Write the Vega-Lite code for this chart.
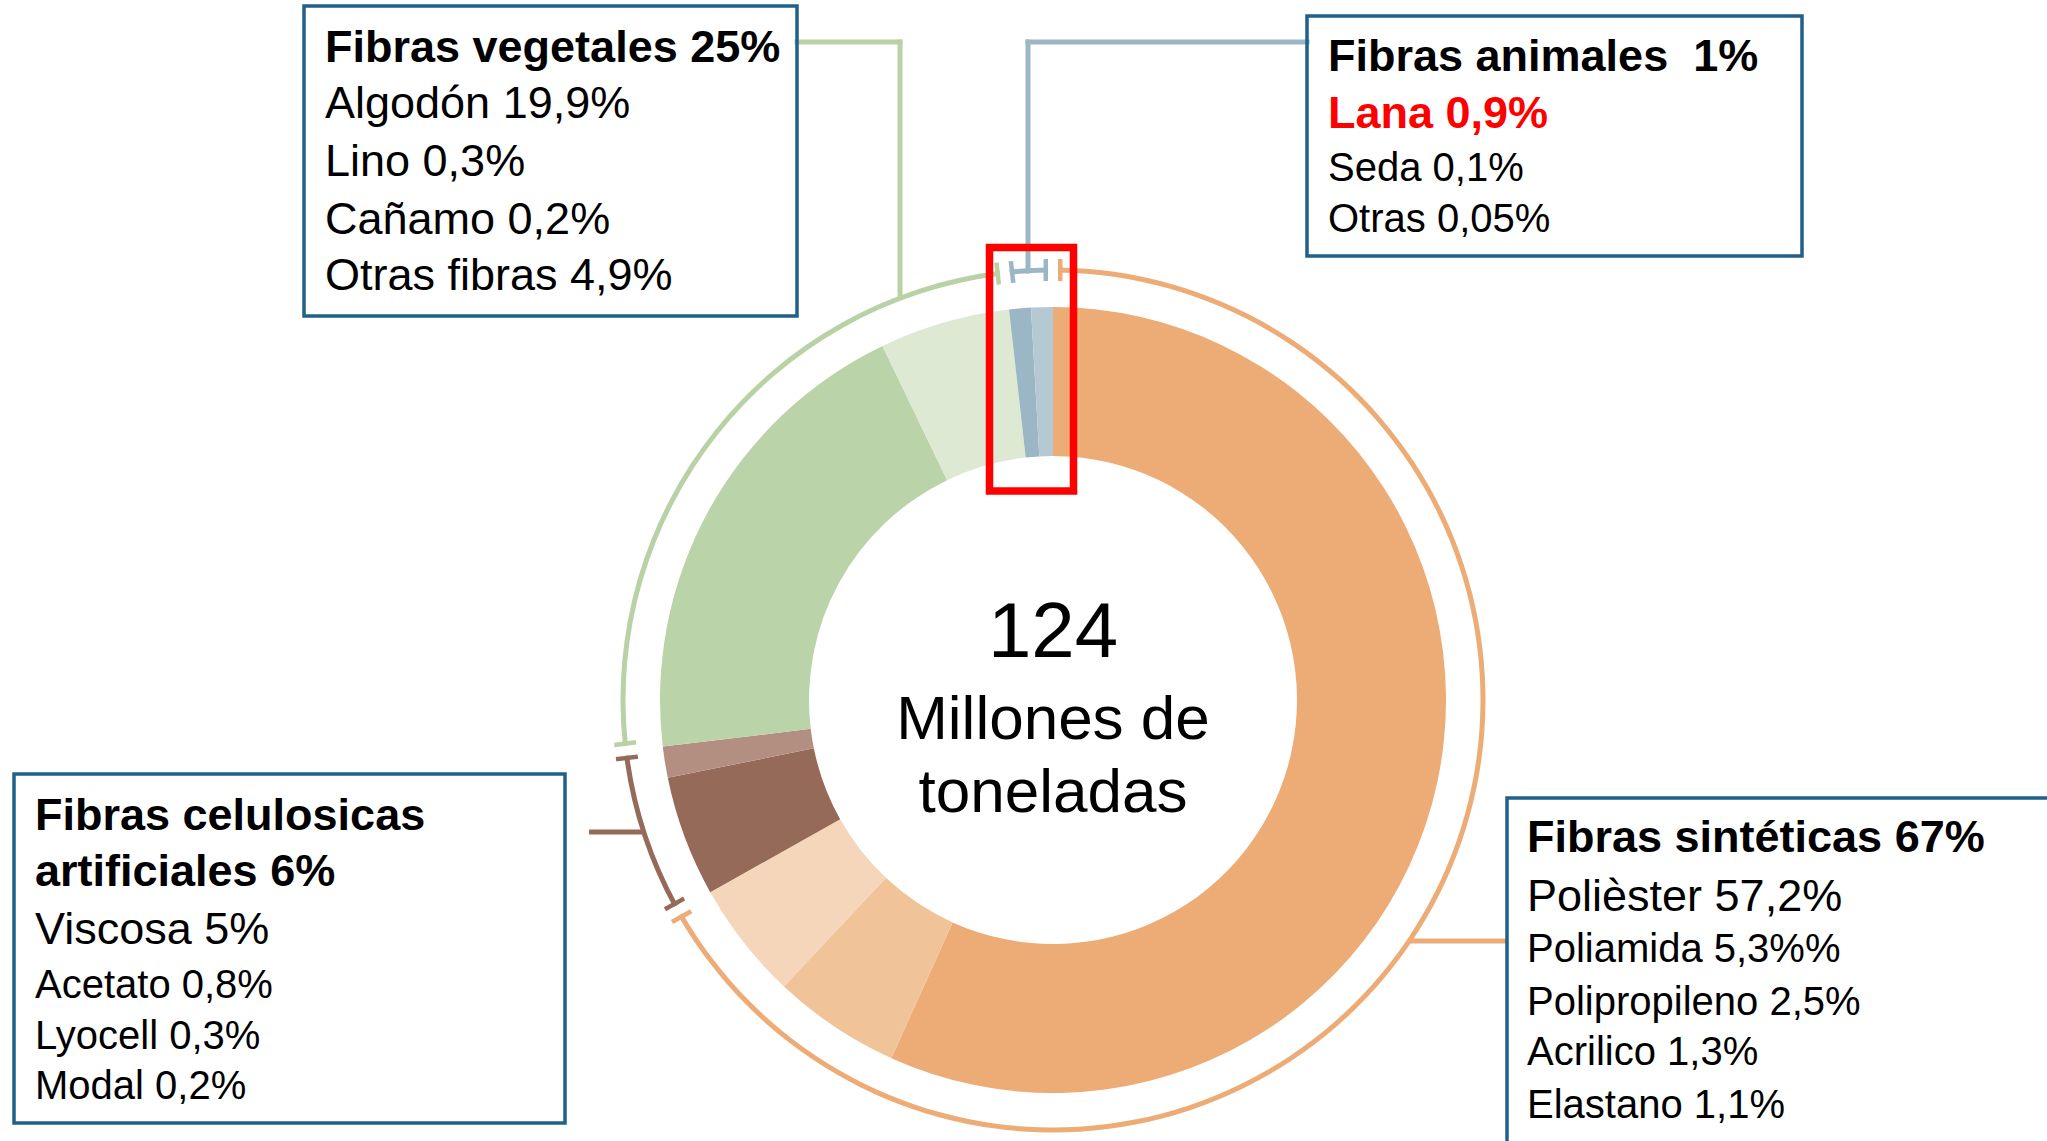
{
  "$schema": "https://vega.github.io/schema/vega-lite/v6.json",
  "width": 2047,
  "height": 1141,
  "autosize": {"type": "fit", "contains": "padding"},
  "padding": 0,
  "background": "white",
  "config": {"view": {"stroke": null}, "text": {"font": "Liberation Sans"}},
  "datasets": {
    "fibras": [
      {"fibra": "Poliéster", "grupo": "Fibras sintéticas", "pct": 57.2, "orden": 1},
      {"fibra": "Poliamida", "grupo": "Fibras sintéticas", "pct": 5.3, "orden": 2},
      {"fibra": "Otras sintéticas", "grupo": "Fibras sintéticas", "pct": 4.9, "orden": 3},
      {"fibra": "Viscosa", "grupo": "Fibras celulósicas artificiales", "pct": 5.0, "orden": 4},
      {"fibra": "Otras celulósicas", "grupo": "Fibras celulósicas artificiales", "pct": 1.3, "orden": 5},
      {"fibra": "Algodón", "grupo": "Fibras vegetales", "pct": 19.9, "orden": 6},
      {"fibra": "Otras vegetales", "grupo": "Fibras vegetales", "pct": 5.4, "orden": 7},
      {"fibra": "Lana", "grupo": "Fibras animales", "pct": 0.9, "orden": 8},
      {"fibra": "Seda y otras", "grupo": "Fibras animales", "pct": 0.9, "orden": 9}
    ],
    "textos": [
      {"caja": "vegetales", "linea": 1, "texto": "Fibras vegetales 25%", "estilo": "titulo"},
      {"caja": "vegetales", "linea": 2, "texto": "Algodón 19,9%", "estilo": "item"},
      {"caja": "vegetales", "linea": 3, "texto": "Lino 0,3%", "estilo": "item"},
      {"caja": "vegetales", "linea": 4, "texto": "Cañamo 0,2%", "estilo": "item"},
      {"caja": "vegetales", "linea": 5, "texto": "Otras fibras 4,9%", "estilo": "item"},
      {"caja": "animales", "linea": 1, "texto": "Fibras animales\u00a0 1%", "estilo": "titulo"},
      {"caja": "animales", "linea": 2, "texto": "Lana 0,9%", "estilo": "destacado"},
      {"caja": "animales", "linea": 3, "texto": "Seda 0,1%", "estilo": "menor"},
      {"caja": "animales", "linea": 4, "texto": "Otras 0,05%", "estilo": "menor"},
      {"caja": "celulosicas", "linea": 1, "texto": "Fibras celulosicas", "estilo": "titulo"},
      {"caja": "celulosicas", "linea": 2, "texto": "artificiales 6%", "estilo": "titulo"},
      {"caja": "celulosicas", "linea": 3, "texto": "Viscosa 5%", "estilo": "item"},
      {"caja": "celulosicas", "linea": 4, "texto": "Acetato 0,8%", "estilo": "menor"},
      {"caja": "celulosicas", "linea": 5, "texto": "Lyocell 0,3%", "estilo": "menor"},
      {"caja": "celulosicas", "linea": 6, "texto": "Modal 0,2%", "estilo": "menor"},
      {"caja": "sinteticas", "linea": 1, "texto": "Fibras sintéticas 67%", "estilo": "titulo"},
      {"caja": "sinteticas", "linea": 2, "texto": "Polièster 57,2%", "estilo": "item"},
      {"caja": "sinteticas", "linea": 3, "texto": "Poliamida 5,3%%", "estilo": "menor"},
      {"caja": "sinteticas", "linea": 4, "texto": "Polipropileno 2,5%", "estilo": "menor"},
      {"caja": "sinteticas", "linea": 5, "texto": "Acrilico 1,3%", "estilo": "menor"},
      {"caja": "sinteticas", "linea": 6, "texto": "Elastano 1,1%", "estilo": "menor"},
      {"caja": "centro", "linea": 1, "texto": "124", "estilo": "cifra"},
      {"caja": "centro", "linea": 2, "texto": "Millones de", "estilo": "unidad"},
      {"caja": "centro", "linea": 3, "texto": "toneladas", "estilo": "unidad"}
    ]
  },
  "layer": [
    {
      "layer": [
        {
          "data": {"name": "fibras"},
          "mark": {"type": "arc", "radius": 393, "radius2": 244},
          "encoding": {
            "x": {"datum": 1053, "scale": {"domain": [0, 2047], "range": [0, 2047], "nice": false, "zero": false}, "axis": null},
            "y": {"datum": 700, "scale": {"domain": [0, 1141], "range": [0, 1141], "nice": false, "zero": false}, "axis": null},
            "theta": {"field": "pct", "type": "quantitative", "stack": true},
            "order": {"field": "orden", "type": "quantitative"},
            "color": {"field": "fibra", "type": "nominal", "legend": null,
              "scale": {
                "domain": ["Poliéster", "Poliamida", "Otras sintéticas", "Viscosa", "Otras celulósicas", "Algodón", "Otras vegetales", "Lana", "Seda y otras", "Fibras sintéticas", "Fibras celulósicas artificiales", "Fibras vegetales", "Fibras animales"],
                "range": ["#EDAB76", "#F0C399", "#F6D6BA", "#956A58", "#B38F82", "#BBD3A8", "#DEE9D4", "#9BB7C5", "#B5C9D4", "#EDAB76", "#956A58", "#B9D2A5", "#9BB7C5"]
              }}
          }
        },
        {
          "data": {"name": "fibras"},
          "transform": [{"aggregate": [{"op": "sum", "field": "pct", "as": "pct"}, {"op": "min", "field": "orden", "as": "orden"}], "groupby": ["grupo"]}],
          "mark": {"type": "arc", "radius": 441, "radius2": 419, "padAngle": 0.0164},
          "encoding": {
            "x": {"datum": 1053, "scale": {"domain": [0, 2047], "range": [0, 2047], "nice": false, "zero": false}, "axis": null},
            "y": {"datum": 700, "scale": {"domain": [0, 1141], "range": [0, 1141], "nice": false, "zero": false}, "axis": null},
            "theta": {"field": "pct", "type": "quantitative", "stack": true},
            "order": {"field": "orden", "type": "quantitative"},
            "color": {"field": "grupo", "type": "nominal", "legend": null,
              "scale": {
                "domain": ["Poliéster", "Poliamida", "Otras sintéticas", "Viscosa", "Otras celulósicas", "Algodón", "Otras vegetales", "Lana", "Seda y otras", "Fibras sintéticas", "Fibras celulósicas artificiales", "Fibras vegetales", "Fibras animales"],
                "range": ["#EDAB76", "#F0C399", "#F6D6BA", "#956A58", "#B38F82", "#BBD3A8", "#DEE9D4", "#9BB7C5", "#B5C9D4", "#EDAB76", "#956A58", "#B9D2A5", "#9BB7C5"]
              }}
          }
        },
        {
          "data": {"name": "fibras"},
          "transform": [{"aggregate": [{"op": "sum", "field": "pct", "as": "pct"}, {"op": "min", "field": "orden", "as": "orden"}], "groupby": ["grupo"]}],
          "mark": {"type": "arc", "radius": 444, "radius2": 416, "padAngle": 0.0312, "fill": "white"},
          "encoding": {
            "x": {"datum": 1053, "scale": {"domain": [0, 2047], "range": [0, 2047], "nice": false, "zero": false}, "axis": null},
            "y": {"datum": 700, "scale": {"domain": [0, 1141], "range": [0, 1141], "nice": false, "zero": false}, "axis": null},
            "theta": {"field": "pct", "type": "quantitative", "stack": true},
            "order": {"field": "orden", "type": "quantitative"},
            "detail": {"field": "grupo", "type": "nominal"}
          }
        },
        {
          "data": {"name": "fibras"},
          "transform": [{"aggregate": [{"op": "sum", "field": "pct", "as": "pct"}, {"op": "min", "field": "orden", "as": "orden"}], "groupby": ["grupo"]}],
          "mark": {"type": "arc", "radius": 432.5, "radius2": 427.5, "padAngle": 0.0164},
          "encoding": {
            "x": {"datum": 1053, "scale": {"domain": [0, 2047], "range": [0, 2047], "nice": false, "zero": false}, "axis": null},
            "y": {"datum": 700, "scale": {"domain": [0, 1141], "range": [0, 1141], "nice": false, "zero": false}, "axis": null},
            "theta": {"field": "pct", "type": "quantitative", "stack": true},
            "order": {"field": "orden", "type": "quantitative"},
            "color": {"field": "grupo", "type": "nominal", "legend": null,
              "scale": {
                "domain": ["Poliéster", "Poliamida", "Otras sintéticas", "Viscosa", "Otras celulósicas", "Algodón", "Otras vegetales", "Lana", "Seda y otras", "Fibras sintéticas", "Fibras celulósicas artificiales", "Fibras vegetales", "Fibras animales"],
                "range": ["#EDAB76", "#F0C399", "#F6D6BA", "#956A58", "#B38F82", "#BBD3A8", "#DEE9D4", "#9BB7C5", "#B5C9D4", "#EDAB76", "#956A58", "#B9D2A5", "#9BB7C5"]
              }}
          }
        },
        {
          "data": {"values": [{"elemento": "conector vegetales"}]},
          "mark": {"type": "rule", "stroke": "#B9D2A5", "strokeWidth": 5, "strokeCap": "square"},
          "encoding": {
            "x": {"datum": 797, "scale": {"domain": [0, 2047], "range": [0, 2047], "nice": false, "zero": false}, "axis": null},
            "x2": {"datum": 900},
            "y": {"datum": 42, "scale": {"domain": [0, 1141], "range": [0, 1141], "nice": false, "zero": false}, "axis": null}
          }
        },
        {
          "data": {"values": [{"elemento": "conector vegetales"}]},
          "mark": {"type": "rule", "stroke": "#B9D2A5", "strokeWidth": 5, "strokeCap": "square"},
          "encoding": {
            "x": {"datum": 900, "scale": {"domain": [0, 2047], "range": [0, 2047], "nice": false, "zero": false}, "axis": null},
            "y": {"datum": 42, "scale": {"domain": [0, 1141], "range": [0, 1141], "nice": false, "zero": false}, "axis": null},
            "y2": {"datum": 297}
          }
        },
        {
          "data": {"values": [{"elemento": "conector animales"}]},
          "mark": {"type": "rule", "stroke": "#9BB7C5", "strokeWidth": 5, "strokeCap": "square"},
          "encoding": {
            "x": {"datum": 1028, "scale": {"domain": [0, 2047], "range": [0, 2047], "nice": false, "zero": false}, "axis": null},
            "x2": {"datum": 1307},
            "y": {"datum": 42, "scale": {"domain": [0, 1141], "range": [0, 1141], "nice": false, "zero": false}, "axis": null}
          }
        },
        {
          "data": {"values": [{"elemento": "conector animales"}]},
          "mark": {"type": "rule", "stroke": "#9BB7C5", "strokeWidth": 5, "strokeCap": "square"},
          "encoding": {
            "x": {"datum": 1028, "scale": {"domain": [0, 2047], "range": [0, 2047], "nice": false, "zero": false}, "axis": null},
            "y": {"datum": 42, "scale": {"domain": [0, 1141], "range": [0, 1141], "nice": false, "zero": false}, "axis": null},
            "y2": {"datum": 271}
          }
        },
        {
          "data": {"values": [{"elemento": "conector celulosicas"}]},
          "mark": {"type": "rule", "stroke": "#956A58", "strokeWidth": 5},
          "encoding": {
            "x": {"datum": 589, "scale": {"domain": [0, 2047], "range": [0, 2047], "nice": false, "zero": false}, "axis": null},
            "x2": {"datum": 644},
            "y": {"datum": 832, "scale": {"domain": [0, 1141], "range": [0, 1141], "nice": false, "zero": false}, "axis": null}
          }
        },
        {
          "data": {"values": [{"elemento": "conector sinteticas"}]},
          "mark": {"type": "rule", "stroke": "#EDAB76", "strokeWidth": 5},
          "encoding": {
            "x": {"datum": 1409, "scale": {"domain": [0, 2047], "range": [0, 2047], "nice": false, "zero": false}, "axis": null},
            "x2": {"datum": 1507},
            "y": {"datum": 941, "scale": {"domain": [0, 1141], "range": [0, 1141], "nice": false, "zero": false}, "axis": null}
          }
        },
        {
          "data": {"values": [{"elemento": "caja vegetales"}]},
          "mark": {"type": "rect", "fillOpacity": 0, "stroke": "#1F6189", "strokeWidth": 3.5},
          "encoding": {
            "x": {"datum": 304, "scale": {"domain": [0, 2047], "range": [0, 2047], "nice": false, "zero": false}, "axis": null},
            "x2": {"datum": 797},
            "y": {"datum": 6, "scale": {"domain": [0, 1141], "range": [0, 1141], "nice": false, "zero": false}, "axis": null},
            "y2": {"datum": 316}
          }
        },
        {
          "data": {"values": [{"elemento": "caja animales"}]},
          "mark": {"type": "rect", "fillOpacity": 0, "stroke": "#1F6189", "strokeWidth": 3.5},
          "encoding": {
            "x": {"datum": 1307, "scale": {"domain": [0, 2047], "range": [0, 2047], "nice": false, "zero": false}, "axis": null},
            "x2": {"datum": 1802},
            "y": {"datum": 16, "scale": {"domain": [0, 1141], "range": [0, 1141], "nice": false, "zero": false}, "axis": null},
            "y2": {"datum": 256}
          }
        },
        {
          "data": {"values": [{"elemento": "caja celulosicas"}]},
          "mark": {"type": "rect", "fillOpacity": 0, "stroke": "#1F6189", "strokeWidth": 3.5},
          "encoding": {
            "x": {"datum": 14, "scale": {"domain": [0, 2047], "range": [0, 2047], "nice": false, "zero": false}, "axis": null},
            "x2": {"datum": 565},
            "y": {"datum": 774, "scale": {"domain": [0, 1141], "range": [0, 1141], "nice": false, "zero": false}, "axis": null},
            "y2": {"datum": 1123}
          }
        },
        {
          "data": {"values": [{"elemento": "caja sinteticas"}]},
          "mark": {"type": "rect", "fillOpacity": 0, "stroke": "#1F6189", "strokeWidth": 3.5},
          "encoding": {
            "x": {"datum": 1507, "scale": {"domain": [0, 2047], "range": [0, 2047], "nice": false, "zero": false}, "axis": null},
            "x2": {"datum": 2080},
            "y": {"datum": 798, "scale": {"domain": [0, 1141], "range": [0, 1141], "nice": false, "zero": false}, "axis": null},
            "y2": {"datum": 1180}
          }
        },
        {
          "data": {"values": [{"elemento": "resaltado lana"}]},
          "mark": {"type": "rect", "fillOpacity": 0, "stroke": "#FF0000", "strokeWidth": 7.5},
          "encoding": {
            "x": {"datum": 989.5, "scale": {"domain": [0, 2047], "range": [0, 2047], "nice": false, "zero": false}, "axis": null},
            "x2": {"datum": 1073.5},
            "y": {"datum": 247.5, "scale": {"domain": [0, 1141], "range": [0, 1141], "nice": false, "zero": false}, "axis": null},
            "y2": {"datum": 491}
          }
        }
      ]
    },
    {
      "data": {"name": "textos"},
      "transform": [{"filter": "datum.caja === 'vegetales'"}],
      "mark": {"type": "text", "align": "left", "baseline": "alphabetic", "font": "Liberation Sans",
        "fontSize": {"expr": "datum.estilo === 'menor' ? 40 : 45"},
        "fontWeight": {"expr": "datum.estilo === 'titulo' || datum.estilo === 'destacado' ? 'bold' : 'normal'"},
        "fill": {"expr": "datum.estilo === 'destacado' ? '#FF0000' : '#000000'"}},
      "encoding": {
        "x": {"datum": 325, "scale": {"domain": [0, 2047], "range": [0, 2047], "nice": false, "zero": false}, "axis": null},
        "y": {"field": "linea", "type": "quantitative", "axis": null, "scale": {"domain": [1, 2, 3, 4, 5], "range": [62, 118, 175.5, 234, 290], "nice": false, "zero": false}},
        "text": {"field": "texto", "type": "nominal"}
      }
    },
    {
      "data": {"name": "textos"},
      "transform": [{"filter": "datum.caja === 'animales'"}],
      "mark": {"type": "text", "align": "left", "baseline": "alphabetic", "font": "Liberation Sans",
        "fontSize": {"expr": "datum.estilo === 'menor' ? 40 : 45"},
        "fontWeight": {"expr": "datum.estilo === 'titulo' || datum.estilo === 'destacado' ? 'bold' : 'normal'"},
        "fill": {"expr": "datum.estilo === 'destacado' ? '#FF0000' : '#000000'"}},
      "encoding": {
        "x": {"datum": 1328, "scale": {"domain": [0, 2047], "range": [0, 2047], "nice": false, "zero": false}, "axis": null},
        "y": {"field": "linea", "type": "quantitative", "axis": null, "scale": {"domain": [1, 2, 3, 4], "range": [71, 128, 181, 232], "nice": false, "zero": false}},
        "text": {"field": "texto", "type": "nominal"}
      }
    },
    {
      "data": {"name": "textos"},
      "transform": [{"filter": "datum.caja === 'celulosicas'"}],
      "mark": {"type": "text", "align": "left", "baseline": "alphabetic", "font": "Liberation Sans",
        "fontSize": {"expr": "datum.estilo === 'menor' ? 40 : 45"},
        "fontWeight": {"expr": "datum.estilo === 'titulo' || datum.estilo === 'destacado' ? 'bold' : 'normal'"},
        "fill": {"expr": "datum.estilo === 'destacado' ? '#FF0000' : '#000000'"}},
      "encoding": {
        "x": {"datum": 35, "scale": {"domain": [0, 2047], "range": [0, 2047], "nice": false, "zero": false}, "axis": null},
        "y": {"field": "linea", "type": "quantitative", "axis": null, "scale": {"domain": [1, 2, 3, 4, 5, 6], "range": [829.5, 885.5, 944, 997.5, 1048.5, 1099], "nice": false, "zero": false}},
        "text": {"field": "texto", "type": "nominal"}
      }
    },
    {
      "data": {"name": "textos"},
      "transform": [{"filter": "datum.caja === 'sinteticas'"}],
      "mark": {"type": "text", "align": "left", "baseline": "alphabetic", "font": "Liberation Sans",
        "fontSize": {"expr": "datum.estilo === 'menor' ? 40 : 45"},
        "fontWeight": {"expr": "datum.estilo === 'titulo' || datum.estilo === 'destacado' ? 'bold' : 'normal'"},
        "fill": {"expr": "datum.estilo === 'destacado' ? '#FF0000' : '#000000'"}},
      "encoding": {
        "x": {"datum": 1527, "scale": {"domain": [0, 2047], "range": [0, 2047], "nice": false, "zero": false}, "axis": null},
        "y": {"field": "linea", "type": "quantitative", "axis": null, "scale": {"domain": [1, 2, 3, 4, 5, 6], "range": [851.5, 910.5, 962, 1014.5, 1065, 1117.5], "nice": false, "zero": false}},
        "text": {"field": "texto", "type": "nominal"}
      }
    },
    {
      "data": {"name": "textos"},
      "transform": [{"filter": "datum.caja === 'centro'"}],
      "mark": {"type": "text", "align": "center", "baseline": "alphabetic", "font": "Liberation Sans",
        "fontSize": {"expr": "datum.estilo === 'cifra' ? 78 : 62"},
        "fill": "#000000"},
      "encoding": {
        "x": {"datum": 1053, "scale": {"domain": [0, 2047], "range": [0, 2047], "nice": false, "zero": false}, "axis": null},
        "y": {"field": "linea", "type": "quantitative", "axis": null, "scale": {"domain": [1, 2, 3], "range": [657, 739, 812], "nice": false, "zero": false}},
        "text": {"field": "texto", "type": "nominal"}
      }
    }
  ],
  "resolve": {"scale": {"y": "independent"}}
}
